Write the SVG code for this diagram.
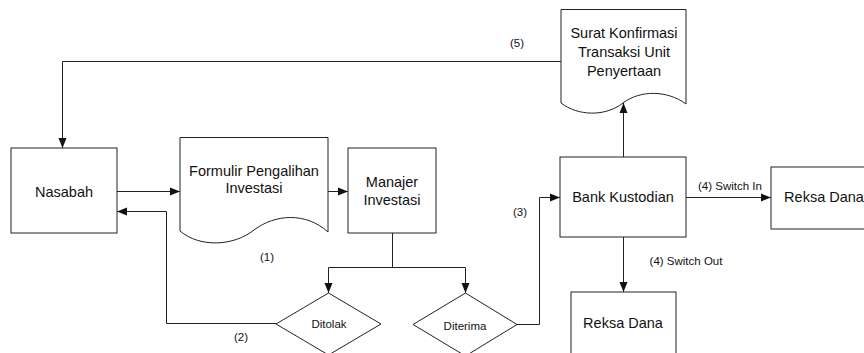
<svg xmlns="http://www.w3.org/2000/svg" width="864" height="353" viewBox="0 0 864 353">
<defs>
<marker id="arr" viewBox="0 0 10 10" refX="10" refY="5" markerWidth="10" markerHeight="10" markerUnits="userSpaceOnUse" orient="auto">
<path d="M0,1 L10,5 L0,9 Z" fill="#111"/>
</marker>
<style>
.sh{fill:#fff;stroke:#222;stroke-width:1}
.cn{fill:none;stroke:#222;stroke-width:1;marker-end:url(#arr)}
.ln{fill:none;stroke:#222;stroke-width:1}
.t{font-family:"Liberation Sans",Arial,sans-serif;font-size:14.5px;fill:#111;text-anchor:middle}
.s{font-family:"Liberation Sans",Arial,sans-serif;font-size:11.5px;fill:#111;text-anchor:middle}
</style>
</defs>
<rect width="864" height="353" fill="#fff"/>
<g id="connectors">
<path class="cn" d="M561,61.5 H62.5 V148"/>
<path class="cn" d="M117,191.5 H180"/>
<path class="cn" d="M328,191.5 H348"/>
<path class="cn" d="M276,323.5 H166.5 V211.5 H117"/>
<path class="ln" d="M392.5,233 V267.5 H328.5"/>
<path class="cn" d="M328.5,267.5 V293"/>
<path class="cn" d="M392.5,267.5 H465.5 V293"/>
<path class="cn" d="M517,324.5 H539.5 V197.5 H560"/>
<path class="cn" d="M623.5,157 V103"/>
<path class="cn" d="M686,197.5 H771"/>
<path class="cn" d="M623.5,237 V292"/>
<text class="s" x="517" y="47">(5)</text>
<text class="s" x="267" y="261">(1)</text>
<text class="s" x="241" y="341">(2)</text>
<text class="s" x="520" y="216">(3)</text>
<text class="s" x="730" y="190">(4) Switch In</text>
<text class="s" x="686" y="265">(4) Switch Out</text>
</g>
<g id="nasabah">
<rect class="sh" x="11" y="148" width="106" height="85"/>
<text class="t" x="64" y="197">Nasabah</text>
</g>
<g id="formulir">
<path class="sh" d="M180,137.5 H328 V232 C306,212 275,214 254,230 C234,246 200,248 180,231 Z"/>
<text class="t" x="254" y="176">Formulir Pengalihan</text>
<text class="t" x="254" y="193">Investasi</text>
</g>
<g id="manajer">
<rect class="sh" x="348" y="148" width="88" height="85"/>
<text class="t" x="392" y="187">Manajer</text>
<text class="t" x="392" y="205">Investasi</text>
</g>
<g id="ditolak">
<path class="sh" d="M328.5,293 L381,324 L328.5,355 L276,324 Z"/>
<text class="s" x="329" y="328">Ditolak</text>
</g>
<g id="diterima">
<path class="sh" d="M465.5,293 L517,324.5 L465.5,356 L413,324.5 Z"/>
<text class="s" x="465" y="330">Diterima</text>
</g>
<g id="bank">
<rect class="sh" x="560" y="157" width="126" height="80"/>
<text class="t" x="623" y="202">Bank Kustodian</text>
</g>
<g id="surat">
<path class="sh" d="M561,9.5 H686 V104 C667,90 640,90 623,103 C605,117 578,116 561,103 Z"/>
<text class="t" x="624" y="38">Surat Konfirmasi</text>
<text class="t" x="624" y="57">Transaksi Unit</text>
<text class="t" x="624" y="76">Penyertaan</text>
</g>
<g id="reksa1">
<rect class="sh" x="771" y="167" width="106" height="62"/>
<text class="t" x="824" y="202">Reksa Dana</text>
</g>
<g id="reksa2">
<rect class="sh" x="571" y="292" width="105" height="70"/>
<text class="t" x="623" y="328">Reksa Dana</text>
</g>
</svg>
